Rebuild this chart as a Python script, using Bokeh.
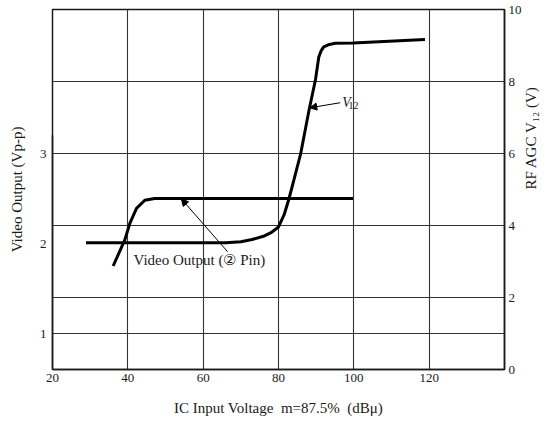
import math
from bokeh.plotting import figure
from bokeh.models import Range1d, LinearAxis, FixedTicker, Label, Arrow, NormalHead
from bokeh.embed import file_html
from bokeh.resources import INLINE

# ---- data ----
x_ticks = [20, 40, 60, 80, 100, 120]
x_grid = [40, 60, 80, 100, 120]
left_ticks = [1, 2, 3]
right_ticks = [0, 2, 4, 6, 8, 10]
right_grid = [1, 2, 4, 6, 8]

# RF AGC V12 (V), right axis
x_v12 = [28.9, 66.0, 70.0, 73.0, 76.0, 78.0, 80.0, 81.5, 82.8, 84.3, 85.9, 88.1,
         89.8, 90.7, 91.3, 92.0, 93.5, 95.1, 99.8, 118.9]
v12 = [3.52, 3.52, 3.55, 3.61, 3.70, 3.80, 3.96, 4.30, 4.75, 5.35, 6.00, 7.20,
       8.04, 8.68, 8.85, 8.96, 9.03, 9.06, 9.07, 9.17]

# Video output (Vp-p), left axis
x_video = [36.1, 39.2, 40.5, 42.3, 44.5, 47.1, 99.8]
video = [1.75, 2.04, 2.22, 2.39, 2.48, 2.50, 2.50]

FONT = "Liberation Serif"
INK = "#1a1a1a"

p = figure(width=549, height=421,
           x_range=Range1d(20, 140), y_range=Range1d(0, 10),
           y_axis_location="right",
           output_backend="svg", toolbar_location=None,
           min_border_left=52, min_border_right=42,
           min_border_top=9, min_border_bottom=52)
p.extra_y_ranges = {"left": Range1d(0.6, 4.6)}

p.outline_line_color = INK
p.outline_line_width = 1.5
p.background_fill_color = "white"
p.border_fill_color = "white"

# grids
p.xgrid.ticker = FixedTicker(ticks=x_grid)
p.ygrid.ticker = FixedTicker(ticks=right_grid)
for g in (p.xgrid, p.ygrid):
    g.grid_line_color = "#333333"
    g.grid_line_width = 1.1
    g.grid_line_alpha = 1.0

def style_axis(ax, standoff):
    ax.major_label_text_font = FONT
    ax.major_label_text_font_size = "13px"
    ax.major_label_text_color = INK
    ax.axis_label_text_font = FONT
    ax.axis_label_text_font_size = "15px"
    ax.axis_label_text_font_style = "normal"
    ax.axis_label_text_color = INK
    ax.axis_line_color = INK
    ax.axis_line_width = 1.5
    ax.major_tick_out = 0
    ax.major_tick_in = 0
    ax.minor_tick_out = 0
    ax.minor_tick_in = 0
    ax.major_label_standoff = standoff

# x axis
xa = p.xaxis[0]
xa.ticker = FixedTicker(ticks=x_ticks)
style_axis(xa, 4)
xa.axis_label = "IC Input Voltage\u00a0 m=87.5%\u00a0 (dBμ)"
xa.axis_label_standoff = 15

# right axis (primary): ticks only
ra = p.yaxis[0]
ra.ticker = FixedTicker(ticks=right_ticks)
style_axis(ra, 4)

# right axis title, carried by a tick-less outer axis so it sits lower, reading upward
rt = LinearAxis(ticker=FixedTicker(ticks=[]), bounds=(0, 6.4))
style_axis(rt, 0)
rt.axis_line_color = None
rt.axis_label = "RF AGC V₁₂ (V)"
rt.axis_label_standoff = 6
if "axis_label_orientation" in type(rt).properties():
    rt.axis_label_orientation = math.pi / 2
p.add_layout(rt, "right")

# left axis
la = LinearAxis(y_range_name="left", ticker=FixedTicker(ticks=left_ticks), bounds=(0.6, 3.2))
style_axis(la, 6)
la.axis_label = "Video Output (Vp-p)"
la.axis_label_standoff = 12
p.add_layout(la, "left")

# curves
p.line(x_v12, v12, line_color="black", line_width=3)
p.line(x_video, video, y_range_name="left", line_color="black", line_width=3)

# annotations
p.add_layout(Arrow(end=NormalHead(size=7, fill_color="black", line_color="black"),
                   x_start=96.4, y_start=7.41, x_end=88.3, y_end=7.27,
                   line_color="black", line_width=1))
p.add_layout(Label(x=96.9, y=7.43, text="V", text_font=FONT, text_font_size="14px",
                   text_font_style="italic", text_baseline="middle", text_color=INK))
p.add_layout(Label(x=98.6, y=7.33, text="12", text_font=FONT, text_font_size="10px",
                   text_baseline="middle", text_color=INK))

p.add_layout(Arrow(end=NormalHead(size=7, fill_color="black", line_color="black"),
                   x_start=66.5, y_start=3.27, x_end=54.2, y_end=4.74,
                   line_color="black", line_width=1))
p.add_layout(Label(x=41.5, y=3.04, text="Video Output (② Pin)", text_font=FONT,
                   text_font_size="15px", text_baseline="middle", text_color=INK))

open("out.html", "w").write(file_html(p, INLINE))
